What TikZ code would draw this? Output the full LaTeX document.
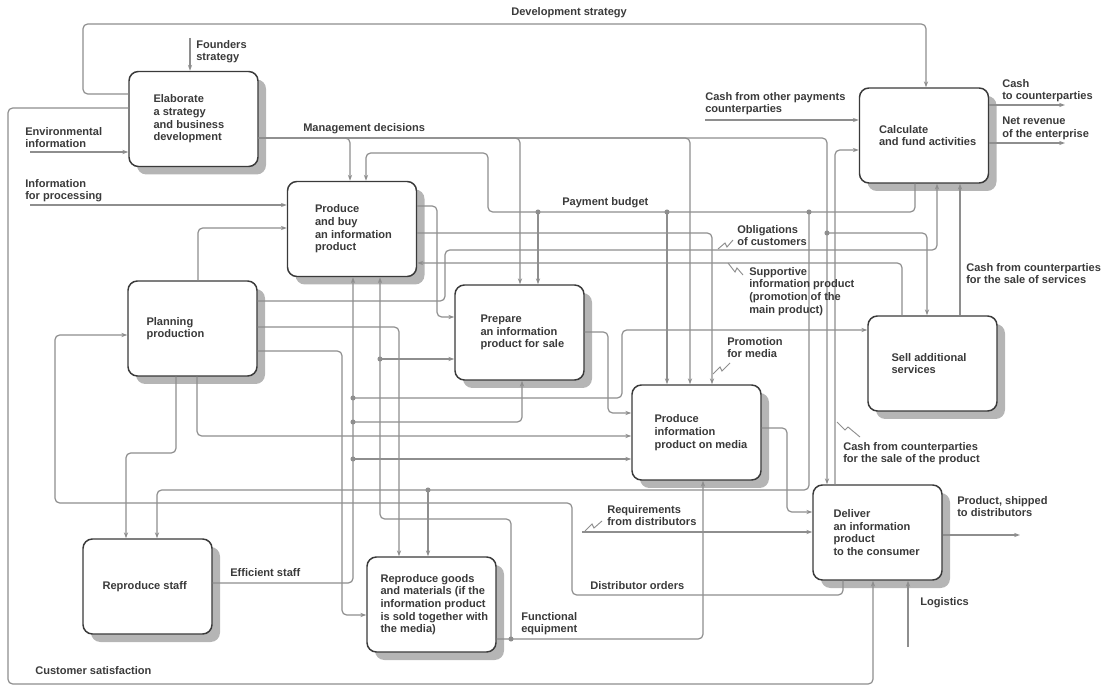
\documentclass[tikz,border=0pt]{standalone}
\usepackage{fontspec}
\setmainfont{Liberation Sans}
\usepackage{tikz}
\usepackage{xcolor}
\usetikzlibrary{arrows.meta,shadows,calc}

\definecolor{wiregray}{HTML}{8E8E8E}
\definecolor{inkgray}{HTML}{3A3A3A}
\definecolor{shadegray}{HTML}{B5B5B5}

\begin{document}
\begin{tikzpicture}[
        x=0.75pt, y=-0.75pt,
        >={Stealth[length=4.5pt,width=3.2pt]},
        font=\fontsize{8.3pt}{9.5pt}\selectfont\bfseries,
        text=inkgray,
        process/.style={draw=inkgray, line width=1.1pt, fill=white, rounded corners=7pt,
            minimum width=96.75pt, minimum height=71.25pt,
            drop shadow={shadow xshift=6pt, shadow yshift=-6pt, fill=shadegray, opacity=1}},
        caption/.style={anchor=west, align=left, inner sep=0pt},
        tag/.style={anchor=north west, align=left, inner sep=0pt},
        wire/.style={draw=wiregray, line width=0.9pt, rounded corners=3.5pt},
        joint/.style={fill=wiregray},
        bolt/.style={draw=wiregray, line width=0.7pt},
    ]

    \useasboundingbox (0,0) rectangle (1111,691);

    \node[process] (strategy) at (193.5,119) {};
    \node[process] (buy) at (352,229) {};
    \node[process] (plan) at (192.5,328.5) {};
    \node[process] (prepare) at (519.5,332.5) {};
    \node[process] (media) at (696.5,432.5) {};
    \node[process] (fund) at (924,135.5) {};
    \node[process] (services) at (932.5,363.5) {};
    \node[process] (deliver) at (877.5,532.5) {};
    \node[process] (staff) at (147.5,586.5) {};
    \node[process] (goods) at (431.5,604.5) {};

    \node[caption] (strategytext) at ($(strategy.west)+(25,0)$) {Elaborate\\a strategy\\and business\\development};
    \node[caption] (buytext) at ($(buy.west)+(28,0)$) {Produce\\and buy\\an information\\product};
    \node[caption] (plantext) at ($(plan.west)+(19,0)$) {Planning\\production};
    \node[caption] (preparetext) at ($(prepare.west)+(26,0)$) {Prepare\\an information\\product for sale};
    \node[caption] (mediatext) at ($(media.west)+(23,0)$) {Produce\\information\\product on media};
    \node[caption] (fundtext) at ($(fund.west)+(20,0)$) {Calculate\\and fund activities};
    \node[caption] (servicestext) at ($(services.west)+(24,0)$) {Sell additional\\services};
    \node[caption] (delivertext) at ($(deliver.west)+(21,0)$) {Deliver\\an information\\product\\to the consumer};
    \node[caption] (stafftext) at ($(staff.west)+(20,0)$) {Reproduce staff};
    \node[caption] (goodstext) at ($(goods.west)+(14,0)$) {Reproduce goods\\and materials (if the\\information product\\is sold together with\\the media)};

    \coordinate (founders) at (190,38);
    \coordinate (envin) at (30,152);
    \coordinate (procin) at (30,205);
    \coordinate (otherpay) at (705,120);
    \coordinate (cashout) at (1065,105);
    \coordinate (revenue) at (1065,143);
    \coordinate (reqin) at (582,532);
    \coordinate (shipout) at (1020,535);
    \coordinate (login) at (908,647);

    \coordinate (mgmtjoin) at (827,233);
    \coordinate (budgetA) at (538,212);
    \coordinate (budgetB) at (667,212);
    \coordinate (budgetC) at (809,212);
    \coordinate (budgetD) at (428,490);
    \coordinate (staffA) at (353,398);
    \coordinate (staffB) at (353,422);
    \coordinate (staffC) at (353,459);
    \coordinate (equipA) at (511,639);
    \coordinate (equipB) at (380,359);

    \draw[wire,->] (strategy.west |- 0,94) -- (83,94) -- (83,24) -- (926,24) -- (fund.north -| 926,0);
    \draw[wire,->] (founders) -- (strategy.north -| founders);
    \draw[wire,->] (strategy.west |- 0,108) -- (8,108) -- (8,684) -- (873,684) -- (deliver.south -| 873,0);
    \draw[wire,->] (envin) -- (strategy.west |- envin);
    \draw[wire,->] (procin) -- (buy.west |- procin);

    \draw[wire,->] (strategy.east |- 0,138) -- (827,138) -- (deliver.north -| 827,0);
    \draw[wire,->] (strategy.east |- 0,138) -| (buy.north -| 350,0);
    \draw[wire,->] (strategy.east |- 0,138) -| (prepare.north -| 520,0);
    \draw[wire,->] (strategy.east |- 0,138) -| (media.north -| 690,0);
    \draw[wire,->] (mgmtjoin) -| (services.north -| 927,0);

    \draw[wire,->] (fund.south -| 915,0) -- (915,212) -- (488,212) -- (488,153) -- (366,153) -- (buy.north -| 366,0);
    \draw[wire,->] (budgetA) -- (prepare.north -| budgetA);
    \draw[wire,->] (budgetB) -- (media.north -| budgetB);
    \draw[wire,->] (budgetC) -- (809,490) -- (157,490) -- (staff.north -| 157,0);
    \draw[wire,->] (budgetD) -- (goods.north -| budgetD);

    \draw[wire,->] (buy.east |- 0,206) -- (437,206) -- (437,317) -- (prepare.west |- 0,317);
    \draw[wire,->] (buy.east |- 0,233) -| (media.north -| 712,0);
    \draw[wire,->] (plan.east |- 0,301) -- (445,301) -- (445,250) -- (937,250) -- (fund.south -| 937,0);
    \draw[wire,->] (services.north -| 902,0) -- (902,263) -- (buy.east |- 0,263);
    \draw[wire,->] (services.north -| 960,0) -- (fund.south -| 960,0);

    \draw[wire,->] (otherpay) -- (fund.west |- otherpay);
    \draw[wire,->] (fund.east |- cashout) -- (cashout);
    \draw[wire,->] (fund.east |- revenue) -- (revenue);
    \draw[wire,->] (deliver.north -| 835,0) -- (835,150) -- (fund.west |- 0,150);

    \draw[wire,->] (plan.north -| 198,0) |- (buy.west |- 0,228);
    \draw[wire,->] (plan.east |- 0,327) -| (goods.north -| 399,0);
    \draw[wire,->] (plan.east |- 0,351) -- (342,351) |- (goods.west |- 0,615);
    \draw[wire,->] (plan.south -| 176,0) -- (176,453) -- (126,453) -- (staff.north -| 126,0);
    \draw[wire,->] (plan.south -| 197,0) |- (media.west |- 0,436);

    \draw[wire,->] (staff.east |- 0,583) -| (buy.south -| 353,0);
    \draw[wire,->] (staffA) -- (622,398) -- (622,330) -- (services.west |- 0,330);
    \draw[wire,->] (staffB) -| (prepare.south -| 522,0);
    \draw[wire,->] (staffC) -- (media.west |- staffC);

    \draw[wire,->] (goods.east |- 0,639) -| (media.south -| 703,0);
    \draw[wire,->] (equipA) -- (511,519) -- (380,519) -- (buy.south -| 380,0);
    \draw[wire,->] (equipB) -- (prepare.west |- equipB);

    \draw[wire,->] (prepare.east |- 0,332) -- (608,332) |- (media.west |- 0,413);
    \draw[wire,->] (media.east |- 0,428) -- (787,428) |- (deliver.west |- 0,512);
    \draw[wire,->] (reqin) -- (deliver.west |- reqin);
    \draw[wire,->] (deliver.east |- shipout) -- (shipout);
    \draw[wire,->] (login) -- (deliver.south -| login);
    \draw[wire,->] (deliver.south -| 843,0) -- (843,595) -- (572,595) -- (572,503) -- (55,503) -- (55,335) -- (plan.west |- 0,335);

    \foreach \j in {mgmtjoin,budgetA,budgetB,budgetC,budgetD,staffA,staffB,staffC,equipA,equipB}
        \fill[joint] (\j) circle (1.9pt);

    \draw[bolt] (718,249) -- (725,243) -- (727,247) -- (733,240);
    \draw[bolt] (728,263) -- (735,272) -- (737,268) -- (743,275);
    \draw[bolt] (713,374) -- (720,367) -- (722,371) -- (730,363);
    \draw[bolt] (837,422) -- (845,430) -- (848,427) -- (860,437);
    \draw[bolt] (585,531) -- (592,524) -- (594,528) -- (602,521);

    \node[tag] (devtag) at (511,7) {Development strategy};
    \node[tag] (foundtag) at (196,40) {Founders\\strategy};
    \node[tag] (satistag) at (35,666) {Customer satisfaction};
    \node[tag] (envtag) at (25,127) {Environmental\\information};
    \node[tag] (proctag) at (25,179) {Information\\for processing};
    \node[tag] (mgmttag) at (303,123) {Management decisions};
    \node[tag] (budgettag) at (562,197) {Payment budget};
    \node[tag] (obligtag) at (737,225) {Obligations\\of customers};
    \node[tag] (supporttag) at (749,267) {Supportive\\information product\\(promotion of the\\main product)};
    \node[tag] (promotag) at (727,337) {Promotion\\for media};
    \node[tag] (othertag) at (705,92) {Cash from other payments\\counterparties};
    \node[tag] (cashtag) at (1002,79) {Cash\\to counterparties};
    \node[tag] (revtag) at (1002,117) {Net revenue\\of the enterprise};
    \node[tag] (servtag) at (966,263) {Cash from counterparties\\for the sale of services};
    \node[tag] (prodtag) at (843,442) {Cash from counterparties\\for the sale of the product};
    \node[tag] (shiptag) at (957,496) {Product, shipped\\to distributors};
    \node[tag] (logtag) at (920,597) {Logistics};
    \node[tag] (reqtag) at (607,505) {Requirements\\from distributors};
    \node[tag] (ordertag) at (590,581) {Distributor orders};
    \node[tag] (equiptag) at (521,612) {Functional\\equipment};
    \node[tag] (stafftag) at (230,568) {Efficient staff};
\end{tikzpicture}
\end{document}
